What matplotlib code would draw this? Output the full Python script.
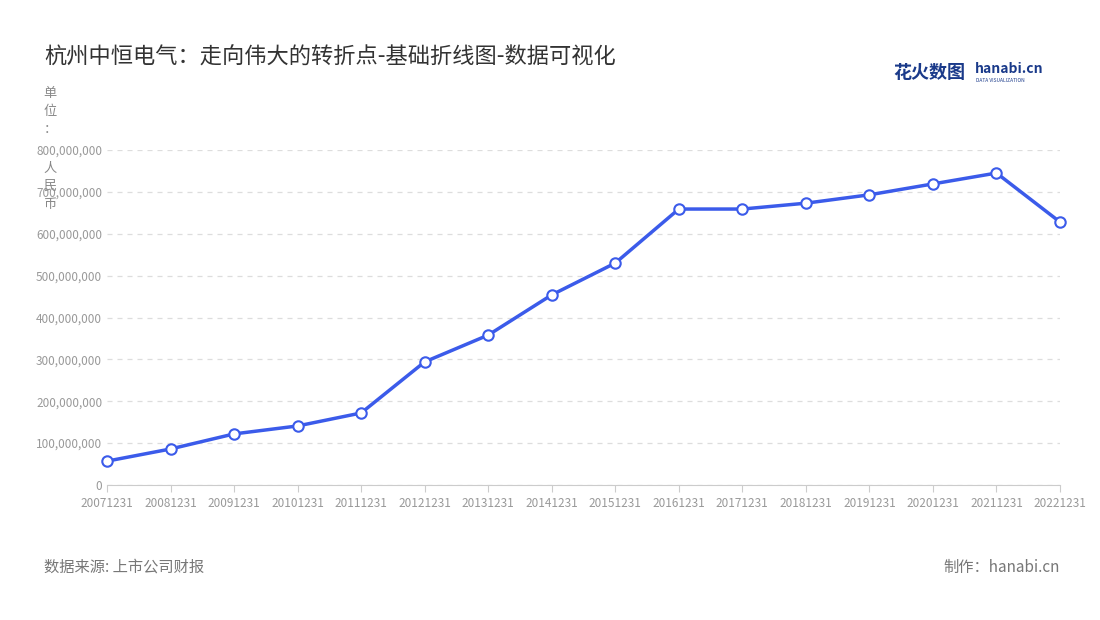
import matplotlib
matplotlib.use("Agg")
import matplotlib.pyplot as plt
from matplotlib.ticker import FuncFormatter, MultipleLocator

plt.rcParams['font.family'] = ['Noto Sans CJK SC', 'DejaVu Sans']

dates = ["20071231","20081231","20091231","20101231","20111231","20121231","20131231","20141231",
         "20151231","20161231","20171231","20181231","20191231","20201231","20211231","20221231"]
values = [57e6, 86e6, 122e6, 141e6, 172e6, 294e6, 358e6, 454e6,
          530e6, 659e6, 659e6, 673e6, 693e6, 719e6, 745e6, 628e6]

fig = plt.figure(figsize=(11, 6.2), dpi=100)
ax = fig.add_axes([107/1100, 135/620, 953/1100, 335/620])
x = list(range(len(dates)))
ax.plot(x, values, color='#3b5bea', lw=2.5, marker='o', ms=7.5,
        mfc='white', mec='#3b5bea', mew=1.5, zorder=3, clip_on=False)
ax.set_xlim(0, len(dates) - 1)
ax.set_ylim(0, 800e6)
ax.yaxis.set_major_locator(MultipleLocator(100e6))
ax.yaxis.set_major_formatter(FuncFormatter(lambda v, p: f"{int(v):,}"))
ax.set_xticks(x)
ax.set_xticklabels(dates)
ax.tick_params(axis='both', labelsize=8.5, colors='#999999', length=0)
ax.tick_params(axis='x', length=5, color='#cccccc')
ax.grid(axis='y', ls=(0, (4, 4)), color='#dddddd', lw=0.9)
for s in ['top', 'right', 'left']:
    ax.spines[s].set_visible(False)
ax.spines['bottom'].set_color('#cccccc')

fig.text(44/1100, 1 - 57/620, "杭州中恒电气：走向伟大的转折点-基础折线图-数据可视化",
         fontsize=16, color='#333333', va='center')
fig.text(50/1100, 1 - 87/620, "\n".join("单位：") , fontsize=9.5, color='#888888',
         va='top', ha='center', linespacing=1.5)
fig.text(50/1100, 1 - 162/620, "\n".join("人民币"), fontsize=9.5, color='#888888',
         va='top', ha='center', linespacing=1.5)
fig.text(44/1100, 1 - 567/620, "数据来源: 上市公司财报", fontsize=11, color='#777777', va='center')
fig.text(1060/1100, 1 - 567/620, "制作：hanabi.cn", fontsize=11, color='#777777', va='center', ha='right')
fig.text(893/1100, 1 - 72/620, "花火数图", fontsize=13, color='#1a3a8a', va='center', weight='bold')
fig.text(975/1100, 1 - 69/620, "hanabi.cn", fontsize=10, color='#1a3a8a', va='center', weight='bold')
fig.text(976/1100, 1 - 80/620, "DATA VISUALIZATION", fontsize=3.5, color='#1a3a8a', va='center')

fig.savefig("out.png", dpi=100)
